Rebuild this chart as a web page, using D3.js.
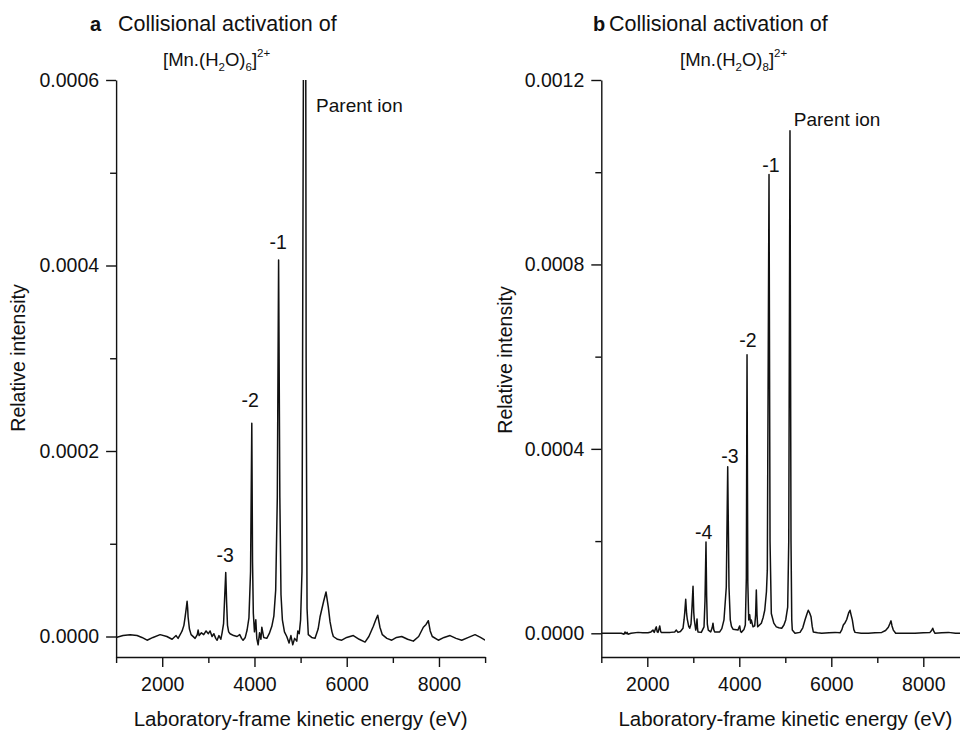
<!DOCTYPE html>
<html>
<head>
<meta charset="utf-8">
<script src="https://cdn.jsdelivr.net/npm/d3@7/dist/d3.min.js"></script>
<style>
  body { margin: 0; background: #fff; }
  text { font-family: "Liberation Sans", Arial, sans-serif; fill: #111; }
</style>
</head>
<body>
<div id="chart"></div>
<script>
// spectrum a : [Mn.(H2O)6]2+ (energy in eV, intensity in units of 1e-6)
var energyA = [1000,1150,1304,1455,1560,1672,1800,1954,2100,2214,2300,2344,2400,2431,2470,2496,2525,2539,2552,2561,
  2590,2626,2713,2760,2778,2800,2850,2900,2950,3000,3038,3080,3120,3160,3190,3230,3270,3298,3330,3352,
  3377,3395,3415,3440,3471,3550,3623,3680,3720,3753,3800,3840,3880,3915,3942,3958,3975,4000,4029,4050,
  4079,4110,4140,4159,4200,4267,4320,4376,4420,4460,4495,4523,4550,4575,4605,4650,4700,4750,4790,4830,
  4870,4917,4940,4970,5000,5030,5060,5097,5120,5140,5167,5240,5313,5380,5421,5500,5551,5600,5638,5680,
  5710,5800,5892,6000,6143,6270,6397,6480,6577,6630,6672,6720,6772,6870,6976,7080,7192,7320,7444,7560,
  7661,7720,7769,7810,7855,7986,8110,8240,8370,8493,8640,8782,8900,9000];
var intensityA = [-1,1,2,1,-1,-4,-1,2,0,-3,1,-2,3,6,12,21,32,38,30,21,
  8,2,-2,2,7,1,4,2,6,3,6,0,3,-2,-4,1,-3,4,14,40,
  69,38,12,5,3,1,0,2,-2,-4,-1,7,20,70,230,80,25,5,18,-2,
  -9,4,-3,10,-1,-2,3,11,22,50,150,406,150,45,18,5,0,-7,1,-9,
  -2,-5,6,3,18,70,600,1200,300,30,2,-1,-2,8,21,38,48,32,16,5,
  0,-3,-4,-1,1,-3,-6,0,11,18,23,10,2,-2,-4,-1,0,-3,-5,0,
  10,13,17,6,0,-4,-1,1,-2,-4,-1,2,-1,-4];

// spectrum b : [Mn.(H2O)8]2+
var energyB = [1000,1200,1435,1494,1515,1537,1560,1580,1646,1798,1900,2015,2080,2124,2150,2175,2196,2215,2233,2250,
  2270,2290,2304,2378,2500,2596,2631,2667,2720,2776,2800,2813,2835,2855,2870,2900,2922,2950,2972,2994,
  3010,3022,3053,3070,3081,3092,3102,3174,3233,3254,3276,3290,3305,3326,3378,3410,3428,3445,3465,3574,
  3620,3667,3717,3748,3776,3804,3830,3863,3972,3990,4009,4025,4044,4100,4131,4153,4168,4185,4205,4226,
  4245,4261,4298,4335,4355,4370,4385,4400,4440,4479,4520,4553,4590,4609,4646,4668,4696,4750,4805,4860,
  4922,4970,5009,5052,5075,5102,5124,5140,5152,5211,5320,5380,5428,5470,5500,5530,5559,5585,5609,5700,
  5792,5950,6081,6190,6230,6261,6300,6335,6380,6407,6430,6457,6490,6516,6650,6806,6950,7096,7180,7240,
  7270,7298,7320,7348,7400,7600,7820,8000,8146,8180,8205,8230,8255,8400,8544,8700,8798,9000];
var intensityB = [0,0,0,-2,3,-1,2,-2,0,2,1,1,3,7,2,9,14,3,2,8,
  16,4,2,2,2,3,7,2,4,11,30,44,74,42,30,15,11,20,57,102,
  45,29,7,18,31,10,3,2,14,70,198,80,20,7,3,12,22,8,3,3,
  10,29,100,361,100,29,15,9,7,12,16,5,2,8,18,120,604,110,29,40,
  22,29,14,16,40,94,40,14,18,22,35,50,90,137,995,200,43,22,14,12,
  11,18,29,57,200,1090,200,30,7,0,2,12,29,42,50,44,36,15,3,1,
  0,1,2,1,8,18,23,30,45,50,40,29,8,2,0,0,1,2,6,13,
  20,27,16,7,0,0,0,1,2,6,11,4,0,1,2,0,0,0];

// axis ticks
var xMajor = [2000, 4000, 6000, 8000],
    xMinor = [1000, 3000, 5000, 7000, 9000];
var yMajorA = [0, 0.0002, 0.0004, 0.0006],
    yMinorA = [0.0001, 0.0003, 0.0005];
var yMajorB = [0, 0.0004, 0.0008, 0.0012],
    yMinorB = [0.0002, 0.0006, 0.001];

// peak labels (energy, intensity of label centre)
var labelsA = ["-3", "-2", "-1"],
    labelEA = [3363, 3905, 4512],
    labelIA = [0.000088, 0.000255, 0.000425];
var labelsB = ["-4", "-3", "-2", "-1"],
    labelEB = [3226, 3794, 4189, 4689],
    labelIB = [0.000219, 0.000385, 0.000636, 0.001016];
var parentA = [5336, 0.000573],
    parentB = [5185, 0.001114];

var W = 960, H = 731;

var svg = d3.select("#chart")
  .append("svg")
    .attr("width", W)
    .attr("height", H);

svg.append("rect").attr("width", W).attr("height", H).attr("fill", "#fff");

function drawPanel(p) {
  var g = svg.append("g");

  var x = d3.scaleLinear().domain([1000, 9000]).range([p.left, p.right]);
  var y = d3.scaleLinear().domain([p.yBottom, p.yTop]).range([657, 80]);

  // x axis
  g.append("g")
    .attr("transform", "translate(0,657)")
    .call(d3.axisBottom(x).tickValues(xMajor).tickSize(10).tickSizeOuter(0).tickPadding(10)
      .tickFormat(d3.format("d")));
  g.append("g")
    .attr("transform", "translate(0,657)")
    .call(d3.axisBottom(x).tickValues(xMinor).tickSize(6).tickSizeOuter(0).tickFormat(""))
    .select(".domain").remove();

  // y axis
  g.append("g")
    .attr("transform", "translate(" + p.left + ",0)")
    .call(d3.axisLeft(y).tickValues(p.yMajor).tickSize(10).tickSizeOuter(0).tickPadding(7)
      .tickFormat(d3.format(".4f")));
  g.append("g")
    .attr("transform", "translate(" + p.left + ",0)")
    .call(d3.axisLeft(y).tickValues(p.yMinor).tickSize(6).tickSizeOuter(0).tickFormat(""))
    .select(".domain").remove();

  g.selectAll(".tick text")
    .attr("font-size", "19.5px")
    .attr("font-family", "Liberation Sans, Arial, sans-serif")
    .attr("fill", "#111");
  g.selectAll(".domain, .tick line")
    .attr("stroke", "#111")
    .attr("stroke-width", 1.4);

  // clip the spectrum to the plot area
  g.append("clipPath")
    .attr("id", "clip" + p.id)
    .append("rect")
      .attr("x", p.left)
      .attr("y", 80)
      .attr("width", p.right - p.left)
      .attr("height", 577);

  var pts = p.energy.map(function(e, i) { return [e, p.intensity[i] * 1e-6]; });

  g.append("path")
    .datum(pts)
    .attr("clip-path", "url(#clip" + p.id + ")")
    .attr("fill", "none")
    .attr("stroke", "#111")
    .attr("stroke-width", 1.5)
    .attr("stroke-linejoin", "round")
    .attr("d", d3.line()
      .x(function(d) { return x(d[0]); })
      .y(function(d) { return y(d[1]); }));

  // peak labels
  p.labels.forEach(function(l, i) {
    g.append("text")
      .attr("x", x(p.labelE[i]))
      .attr("y", y(p.labelI[i]))
      .attr("text-anchor", "middle")
      .attr("dominant-baseline", "central")
      .attr("font-size", "19.5px")
      .text(l);
  });
  g.append("text")
    .attr("x", x(p.parent[0]))
    .attr("y", y(p.parent[1]))
    .attr("dominant-baseline", "central")
    .attr("font-size", "19px")
    .text("Parent ion");

  // axis titles
  g.append("text")
    .attr("x", (p.left + p.right) / 2)
    .attr("y", 726)
    .attr("text-anchor", "middle")
    .attr("font-size", "20.5px")
    .text("Laboratory-frame kinetic energy (eV)");
  g.append("text")
    .attr("transform", "translate(" + p.ylabX + "," + p.ylabY + ") rotate(-90)")
    .attr("text-anchor", "middle")
    .attr("dominant-baseline", "central")
    .attr("font-size", "19.5px")
    .text("Relative intensity");

  // title
  var t = g.append("text").attr("y", 31).attr("font-size", "21.5px");
  t.append("tspan").attr("x", p.letterX).attr("font-weight", "bold").attr("font-size", "20px").text(p.letter);
  t.append("tspan").attr("x", p.titleX).text("Collisional activation of");

  var f = g.append("text").attr("x", p.formulaX).attr("y", 66).attr("font-size", "18.5px");
  f.append("tspan").text("[Mn.(H");
  f.append("tspan").attr("dy", 5).attr("font-size", "11.5px").text("2");
  f.append("tspan").attr("dy", -5).text("O)");
  f.append("tspan").attr("dy", 5).attr("font-size", "11.5px").text(p.n);
  f.append("tspan").attr("dy", -5).text("]");
  f.append("tspan").attr("dy", -9).attr("font-size", "11.5px").text("2+");
}

drawPanel({
  id: "a", left: 116.1, right: 485.1, yBottom: -0.0000221, yTop: 0.0006,
  yMajor: yMajorA, yMinor: yMinorA, energy: energyA, intensity: intensityA,
  labels: labelsA, labelE: labelEA, labelI: labelIA, parent: parentA,
  ylabX: 18, ylabY: 358, letter: "a", letterX: 90, titleX: 118, formulaX: 163, n: "6"
});

drawPanel({
  id: "b", left: 601.3, right: 969.3, yBottom: -0.0000514, yTop: 0.0012,
  yMajor: yMajorB, yMinor: yMinorB, energy: energyB, intensity: intensityB,
  labels: labelsB, labelE: labelEB, labelI: labelIB, parent: parentB,
  ylabX: 505, ylabY: 360, letter: "b", letterX: 593, titleX: 609, formulaX: 680, n: "8"
});
</script>
</body>
</html>
